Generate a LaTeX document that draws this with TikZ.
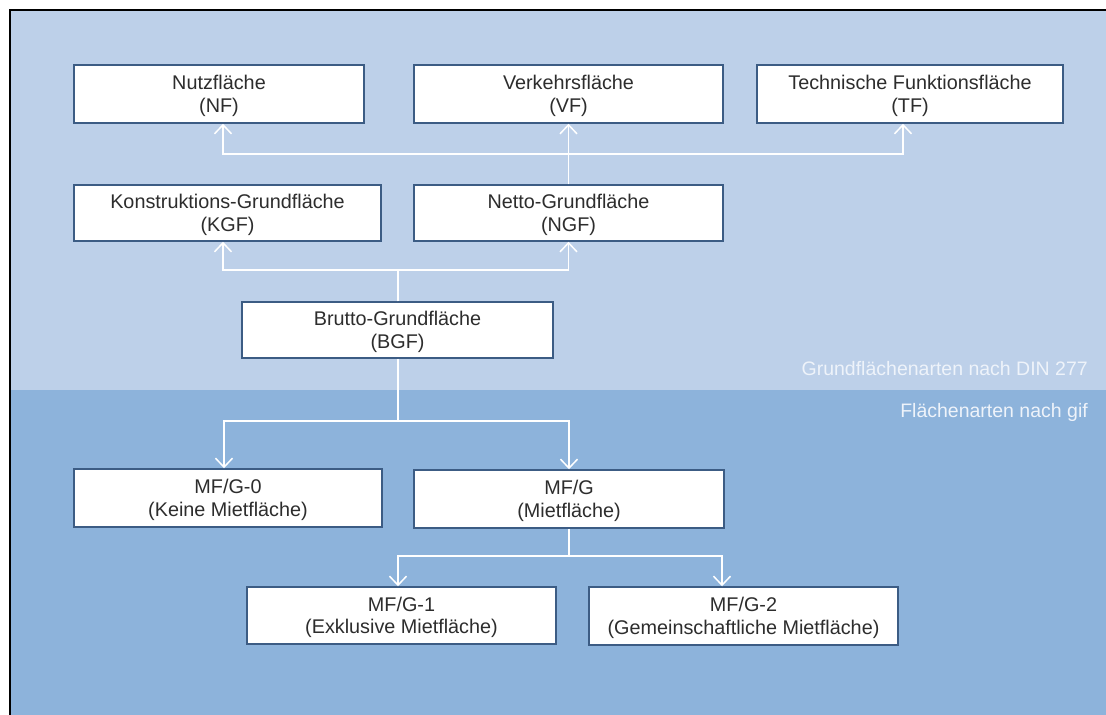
\documentclass[tikz,border=0pt]{standalone}
\usepackage{fontspec}
\setmainfont{Liberation Sans}
\usetikzlibrary{arrows.meta}
\definecolor{upperbg}{RGB}{189,208,233}
\definecolor{lowerbg}{RGB}{141,179,219}
\definecolor{boxline}{RGB}{60,92,132}
\definecolor{boxtext}{RGB}{45,45,45}
\definecolor{labeltext}{RGB}{238,243,250}
\tikzset{
  areabox/.style={draw=boxline, line width=1.5pt, fill=white, inner sep=0pt,
    align=center, text=boxtext, text depth=-1.5pt, font=\fontsize{19.8}{22.5}\selectfont},
  conn/.style={draw=white, line width=1.5pt, -{Straight Barb[length=9pt,width=17pt,line width=1.5pt]}},
  plainconn/.style={draw=white, line width=1.5pt},
  zonelabel/.style={anchor=base east, text=labeltext, inner sep=0pt, font=\fontsize{19.5}{22}\selectfont}
}
\begin{document}
\begin{tikzpicture}[x=1pt,y=-1pt]
\useasboundingbox (0,0) rectangle (1106,715);
\fill[white] (0,0) rectangle (1106,715);
\fill[upperbg] (10,10) rectangle (1106,390);
\fill[lowerbg] (10,390) rectangle (1106,715);
\draw[black, line width=2pt] (10,716) -- (10,10) -- (1107,10);

% boxes
\node[areabox, minimum width=290pt, minimum height=58pt] (NF)  at (219,94)   {Nutzfläche\\(NF)};
\node[areabox, minimum width=309pt, minimum height=58pt] (VF)  at (568.5,94) {Verkehrsfläche\\(VF)};
\node[areabox, minimum width=306pt, minimum height=58pt] (TF)  at (910,94)   {Technische Funktionsfläche\\(TF)};
\node[areabox, minimum width=307pt, minimum height=56pt] (KGF) at (227.5,213) {Konstruktions-Grundfläche\\(KGF)};
\node[areabox, minimum width=309pt, minimum height=56pt] (NGF) at (568.5,213) {Netto-Grundfläche\\(NGF)};
\node[areabox, minimum width=311pt, minimum height=56pt] (BGF) at (397.5,330) {Brutto-Grundfläche\\(BGF)};
\node[areabox, minimum width=308pt, minimum height=58pt] (MG0) at (228,498)  {MF/G-0\\(Keine Mietfläche)};
\node[areabox, minimum width=310pt, minimum height=58pt] (MG)  at (569,499)  {MF/G\\(Mietfläche)};
\node[areabox, minimum width=309pt, minimum height=57pt] (MG1) at (401.5,615.5) {MF/G-1\\(Exklusive Mietfläche)};
\node[areabox, minimum width=309pt, minimum height=58pt] (MG2) at (743.5,616) {MF/G-2\\(Gemeinschaftliche Mietfläche)};

% zone labels
\node[zonelabel] (lbl1) at (1088,375) {Grundflächenarten nach DIN 277};
\node[zonelabel] (lbl2) at (1088,417) {Flächenarten nach gif};

% junctions
\coordinate (j1) at (568.5,154);
\coordinate (j2) at (398,270);
\coordinate (j3) at (398,421);
\coordinate (j4) at (569,556);

% connectors
\draw[conn] (NGF.north) -- (VF.south);
\draw[conn] (j1) -| (NF.south -| 223,0);
\draw[conn] (j1) -| (TF.south -| 903,0);

\draw[plainconn] (BGF.north -| j2) -- (j2);
\draw[conn] (j2) -| (KGF.south -| 223,0);
\draw[conn] (j2) -| (NGF.south);

\draw[plainconn] (BGF.south -| j3) -- (j3);
\draw[conn] (j3) -| (MG0.north -| 224,0);
\draw[conn] (j3) -| (MG.north);

\draw[plainconn] (MG.south) -- (j4);
\draw[conn] (j4) -| (MG1.north -| 398,0);
\draw[conn] (j4) -| (MG2.north -| 722,0);
\end{tikzpicture}
\end{document}
